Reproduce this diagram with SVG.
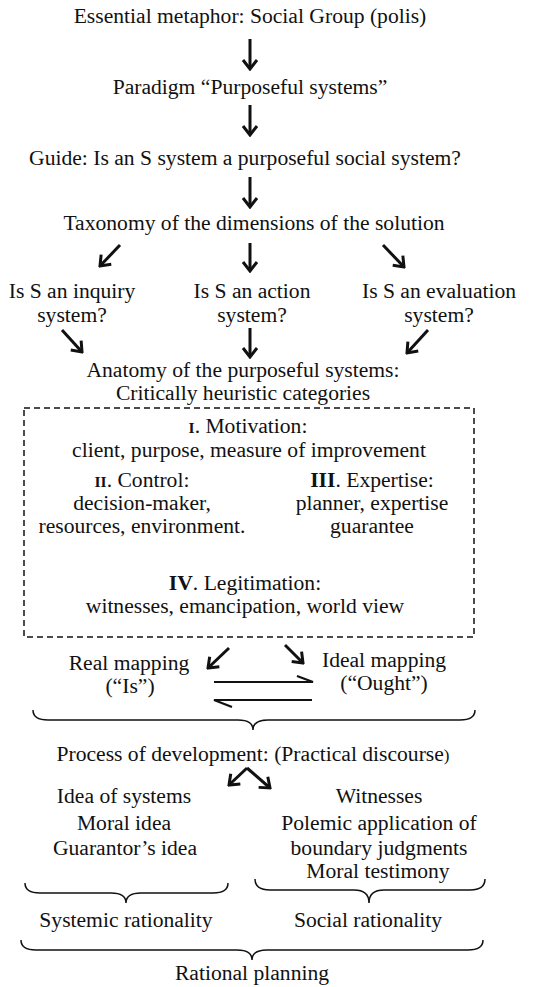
<svg xmlns="http://www.w3.org/2000/svg" width="540" height="987" viewBox="0 0 540 987">
<style>
text{font-family:"Liberation Serif","Times New Roman",serif;font-size:21.6px;fill:#111;text-anchor:middle}
.sc{font-weight:bold;font-size:15.5px}
.b{font-weight:bold}
.arr{stroke:#111;stroke-width:3;fill:none;marker-end:url(#ah)}
.thin{stroke:#111;stroke-width:2.2;fill:none}
.brace{stroke:#111;stroke-width:1.5;fill:none}
.box{stroke:#111;stroke-width:1.5;fill:none;stroke-dasharray:6 4}
</style>
<defs>
<marker id="ah" viewBox="-12 -10 14 20" markerWidth="14" markerHeight="20" refX="0" refY="0" orient="auto" markerUnits="userSpaceOnUse">
<path d="M-9,-7 L0,0 L-9,7" stroke="#111" stroke-width="3" fill="none" stroke-linejoin="miter"/>
</marker>
</defs>
<g id="n1"><text x="250" y="23">Essential metaphor: Social Group (polis)</text></g>
<g id="n2"><text x="250" y="94">Paradigm “Purposeful systems”</text></g>
<g id="n3"><text x="245" y="165">Guide: Is an S system a purposeful social system?</text></g>
<g id="n4"><text x="254" y="230">Taxonomy of the dimensions of the solution</text></g>
<g id="n5"><text x="72" y="298">Is S an inquiry</text><text x="72" y="322">system?</text></g>
<g id="n6"><text x="252" y="298">Is S an action</text><text x="252" y="322">system?</text></g>
<g id="n7"><text x="439" y="298">Is S an evaluation</text><text x="439" y="322">system?</text></g>
<g id="n8"><text x="243" y="377">Anatomy of the purposeful systems:</text><text x="243" y="400">Critically heuristic categories</text></g>
<g id="n9">
<rect class="box" x="24" y="408" width="450" height="229"/>
<text x="248" y="433"><tspan class="sc">I</tspan>. Motivation:</text>
<text x="249" y="457">client, purpose, measure of improvement</text>
<text x="142" y="487"><tspan class="sc">II</tspan>. Control:</text>
<text x="142" y="510">decision-maker,</text>
<text x="142" y="533">resources, environment.</text>
<text x="372" y="487"><tspan class="b">III</tspan>. Expertise:</text>
<text x="372" y="510">planner, expertise</text>
<text x="372" y="533">guarantee</text>
<text x="245" y="590"><tspan class="b">IV</tspan>. Legitimation:</text>
<text x="245" y="613">witnesses, emancipation, world view</text>
</g>
<g id="n10"><text x="129" y="670">Real mapping</text><text x="130" y="693">(“Is”)</text></g>
<g id="n11"><text x="384" y="667">Ideal mapping</text><text x="384" y="690">(“Ought”)</text></g>
<g id="n12"><text x="253" y="761">Process of development: (Practical discourse<tspan font-size="17">)</tspan></text></g>
<g id="n13"><text x="124" y="803">Idea of systems</text><text x="124" y="830">Moral idea</text><text x="125" y="855">Guarantor’s idea</text></g>
<g id="n14"><text x="379" y="803">Witnesses</text><text x="379" y="830">Polemic application of</text><text x="379" y="855">boundary judgments</text><text x="378" y="878">Moral testimony</text></g>
<g id="n15"><text x="126" y="927">Systemic rationality</text></g>
<g id="n16"><text x="368" y="927">Social rationality</text></g>
<g id="n17"><text x="252" y="980">Rational planning</text></g>
<g id="connectors">
<line class="arr" x1="250" y1="39" x2="250" y2="69"/>
<line class="arr" x1="250" y1="105" x2="250" y2="135"/>
<line class="arr" x1="250" y1="177" x2="250" y2="207"/>
<line class="arr" x1="120" y1="245" x2="100" y2="266"/>
<line class="arr" x1="250" y1="243" x2="250" y2="271"/>
<line class="arr" x1="383" y1="245" x2="404" y2="267"/>
<line class="arr" x1="62" y1="330" x2="82" y2="352"/>
<line class="arr" x1="250" y1="328" x2="250" y2="357"/>
<line class="arr" x1="428" y1="330" x2="407" y2="353"/>
<line class="arr" x1="229" y1="648" x2="208" y2="668"/>
<line class="arr" x1="285" y1="645" x2="303" y2="663"/>
<path class="thin" d="M214,682 L313,682 L297,676"/>
<path class="thin" d="M312,700 L214,700 L232,707"/>
<path class="brace" d="M33,710 Q33,720 48,720 L238,720 Q253,720 253,730 Q253,720 268,720 L460,720 Q475,720 475,710"/>
<line class="arr" x1="247" y1="768" x2="229" y2="785"/>
<line class="arr" x1="247" y1="768" x2="270" y2="788"/>
<path class="brace" d="M25,883 Q25,893 40,893 L111,893 Q126,893 126,903 Q126,893 141,893 L213,893 Q228,893 228,883"/>
<path class="brace" d="M255,879 Q255,890 270,890 L354,890 Q369,890 369,903 Q369,890 384,890 L470,890 Q485,890 485,879"/>
<path class="brace" d="M21,940 Q21,950 36,950 L237,950 Q252,950 252,960 Q252,950 267,950 L468,950 Q483,950 483,940"/>
</g>
</svg>
